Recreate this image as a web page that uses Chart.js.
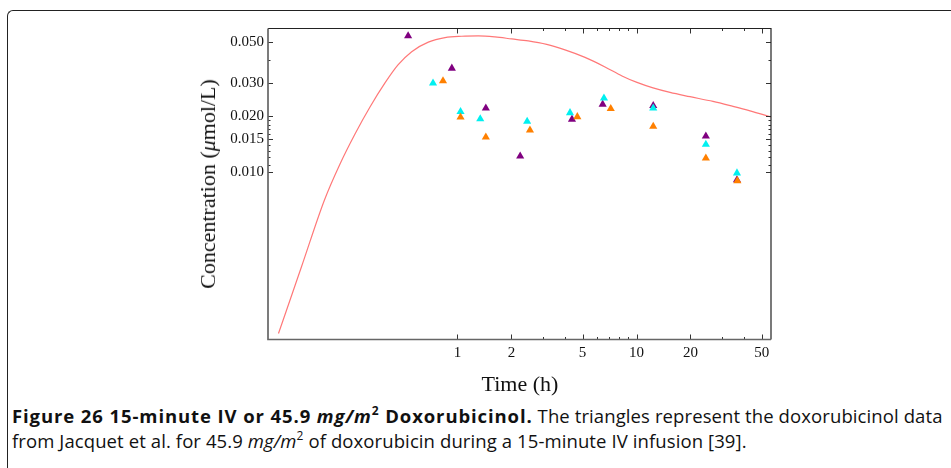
<!DOCTYPE html>
<html>
<head>
<meta charset="utf-8">
<script src="https://cdn.jsdelivr.net/npm/chart.js@4.4.0/dist/chart.umd.min.js"></script>
<style>
body { margin:0; background:#fff; width:951px; height:468px; overflow:hidden; position:relative; font-family:"Liberation Serif", serif; }
#frame { position:absolute; left:7px; top:10px; width:980px; height:500px; border-left:1.5px solid #222; border-top:1.5px solid #222; border-top-left-radius:6px; }
#wrap { position:absolute; left:0; top:0; width:951px; height:400px; }
#ytitle { position:absolute; left:208px; top:184px; transform:translate(-50%,-50%) rotate(-90deg); font-size:22px; white-space:nowrap; color:#111; }
#xtitle { position:absolute; left:520px; top:384px; transform:translate(-50%,-50%); font-size:22px; white-space:nowrap; color:#111; }
#caption { position:absolute; left:12px; top:403px; font-family:"Open Sans", sans-serif; font-size:18.5px; letter-spacing:0.1px; line-height:25px; white-space:nowrap; color:#111; }
#caption b { letter-spacing:0.9px; }
#caption sup { font-size:12px; line-height:0; position:relative; top:-1px; }
</style>
</head>
<body>
<div id="frame"></div>
<div id="wrap"><canvas id="myChart"></canvas></div>
<div id="ytitle">Concentration (<i>μ</i>mol/L)</div>
<div id="xtitle">Time (h)</div>
<div id="caption"><b>Figure 26 15-minute IV or 45.9 <i>mg/m</i><sup>2</sup> Doxorubicinol.</b> The triangles represent the doxorubicinol data<br>from Jacquet et al. for 45.9 <i>mg/m</i><sup>2</sup> of doxorubicin during a 15-minute IV infusion [39].</div>
<script>
// doxorubicinol data, three patients (time in h, conc in umol/L)
var purpleTime = [0.53, 0.93, 1.44, 2.24, 4.36, 6.47, 12.4, 24.4, 36.4];
var purpleConc = [0.0537, 0.036, 0.022, 0.0122, 0.0192, 0.0231, 0.0227, 0.0156, 0.0091];
var cyanTime = [0.73, 1.04, 1.34, 2.45, 4.25, 6.58, 12.4, 24.4, 36.4];
var cyanConc = [0.030, 0.0211, 0.0193, 0.0187, 0.0208, 0.0249, 0.0220, 0.0141, 0.0099];
var orangeTime = [0.83, 1.04, 1.44, 2.54, 4.67, 7.18, 12.4, 24.4, 36.6];
var orangeConc = [0.0308, 0.0197, 0.0154, 0.0168, 0.0198, 0.0219, 0.0176, 0.0119, 0.0090];

// model curve
var modelTime = [0.100, 0.1346, 0.1807, 0.2207, 0.2676, 0.3245, 0.3936, 0.4652, 0.5547, 0.687, 0.852, 1.056, 1.307, 1.62, 2.008, 2.486, 3.149, 3.987, 5.157, 6.668, 8.298, 10.06, 12.37, 15.39, 19.9, 26.76, 34.6, 43.07, 56.4];
var modelConc = [0.00137, 0.00313, 0.00711, 0.01108, 0.01603, 0.02236, 0.03006, 0.03753, 0.0442, 0.0497, 0.0526, 0.05346, 0.05367, 0.0530, 0.05171, 0.05045, 0.04833, 0.04515, 0.04117, 0.03662, 0.03277, 0.03025, 0.02827, 0.02674, 0.02537, 0.02393, 0.0225, 0.02129, 0.01977];

var xMajor = [1, 2, 5, 10, 20, 50];
var xMinor = [3, 4, 6, 7, 8, 9, 30, 40];
var yMajor = [0.010, 0.015, 0.020, 0.030, 0.050];
var yMinor = [0.011, 0.012, 0.013, 0.014, 0.016, 0.017, 0.018, 0.019, 0.040];
var xMin = 0.0874, xMax = 56.4;
var yMin = 0.001273, yMax = 0.0588;

function pts(xs, ys){
	return xs.map(function(x, i){ return {x: x, y: ys[i]}; });
}

function tri(label, xs, ys, color){
	return {
		label: label,
		data: pts(xs, ys),
		pointStyle: 'triangle',
		pointRadius: 4.7,
		pointHoverRadius: 4.7,
		backgroundColor: color,
		borderColor: color,
		borderWidth: 0,
		showLine: false
	};
}

// box + inward tick marks on all four sides
var frameTicks = {
	id: 'frameTicks',
	afterDatasetsDraw: function(chart){
		var ctx = chart.ctx, a = chart.chartArea;
		var xs = chart.scales.x, ys = chart.scales.y;
		ctx.save();
		ctx.strokeStyle = '#333';
		ctx.lineWidth = 1;
		function xt(list, len){
			list.forEach(function(v){
				var p = Math.round(xs.getPixelForValue(v)) + 0.5;
				ctx.beginPath();
				ctx.moveTo(p, a.bottom); ctx.lineTo(p, a.bottom - len);
				ctx.moveTo(p, a.top); ctx.lineTo(p, a.top + len);
				ctx.stroke();
			});
		}
		function yt(list, len){
			list.forEach(function(v){
				var p = Math.round(ys.getPixelForValue(v)) + 0.5;
				ctx.beginPath();
				ctx.moveTo(a.left, p); ctx.lineTo(a.left + len, p);
				ctx.moveTo(a.right, p); ctx.lineTo(a.right - len, p);
				ctx.stroke();
			});
		}
		xt(xMajor, 5); xt(xMinor, 2.5);
		yt(yMajor, 5); yt(yMinor, 2.5);

		ctx.strokeStyle = '#222';
		ctx.lineWidth = 1.2;
		ctx.beginPath();
		ctx.moveTo(a.left, a.top); ctx.lineTo(a.right, a.top); ctx.lineTo(a.right, a.bottom);
		ctx.stroke();
		ctx.strokeStyle = '#666';
		ctx.lineWidth = 1.7;
		ctx.beginPath();
		ctx.moveTo(a.left, a.top); ctx.lineTo(a.left, a.bottom); ctx.lineTo(a.right, a.bottom);
		ctx.stroke();
		ctx.restore();
	}
};

var myChart = new Chart("myChart", {
	type: "scatter",
	data: {
		datasets: [
			tri("Orange", orangeTime, orangeConc, "#ff8000"),
			tri("Cyan", cyanTime, cyanConc, "#00f0f0"),
			tri("Purple", purpleTime, purpleConc, "#800080"),
			{
				label: "Model",
				type: "line",
				data: pts(modelTime, modelConc),
				borderColor: "#ff7878",
				borderWidth: 1.2,
				pointRadius: 0,
				fill: false,
				cubicInterpolationMode: "monotone"
			}
		]
	},
	options: {
		responsive: true,
		maintainAspectRatio: false,
		animation: false,
		layout: { padding: { left: 0, right: 180, top: 28.5, bottom: 0 } },
		plugins: { legend: { display: false }, tooltip: { enabled: false } },
		scales: {
			x: {
				type: "logarithmic",
				min: xMin, max: xMax,
				grid: { display: false, drawTicks: false },
				border: { display: false },
				afterBuildTicks: function(s){ s.ticks = xMajor.map(function(v){ return {value: v}; }); },
				afterFit: function(s){ s.height = 60.5; },
				ticks: {
					autoSkip: false, maxRotation: 0, minRotation: 0, padding: 5, color: "#111",
					font: { family: "Liberation Serif", size: 15 },
					callback: function(v){ return String(v); }
				}
			},
			y: {
				type: "logarithmic",
				min: yMin, max: yMax,
				grid: { display: false, drawTicks: false },
				border: { display: false },
				afterBuildTicks: function(s){ s.ticks = yMajor.map(function(v){ return {value: v}; }); },
				afterFit: function(s){ s.width = 268; },
				ticks: {
					autoSkip: false, padding: 4, color: "#111",
					font: { family: "Liberation Serif", size: 15 },
					callback: function(v){ return Number(v).toFixed(3); }
				}
			}
		}
	},
	plugins: [frameTicks]
});
</script>
</body>
</html>
